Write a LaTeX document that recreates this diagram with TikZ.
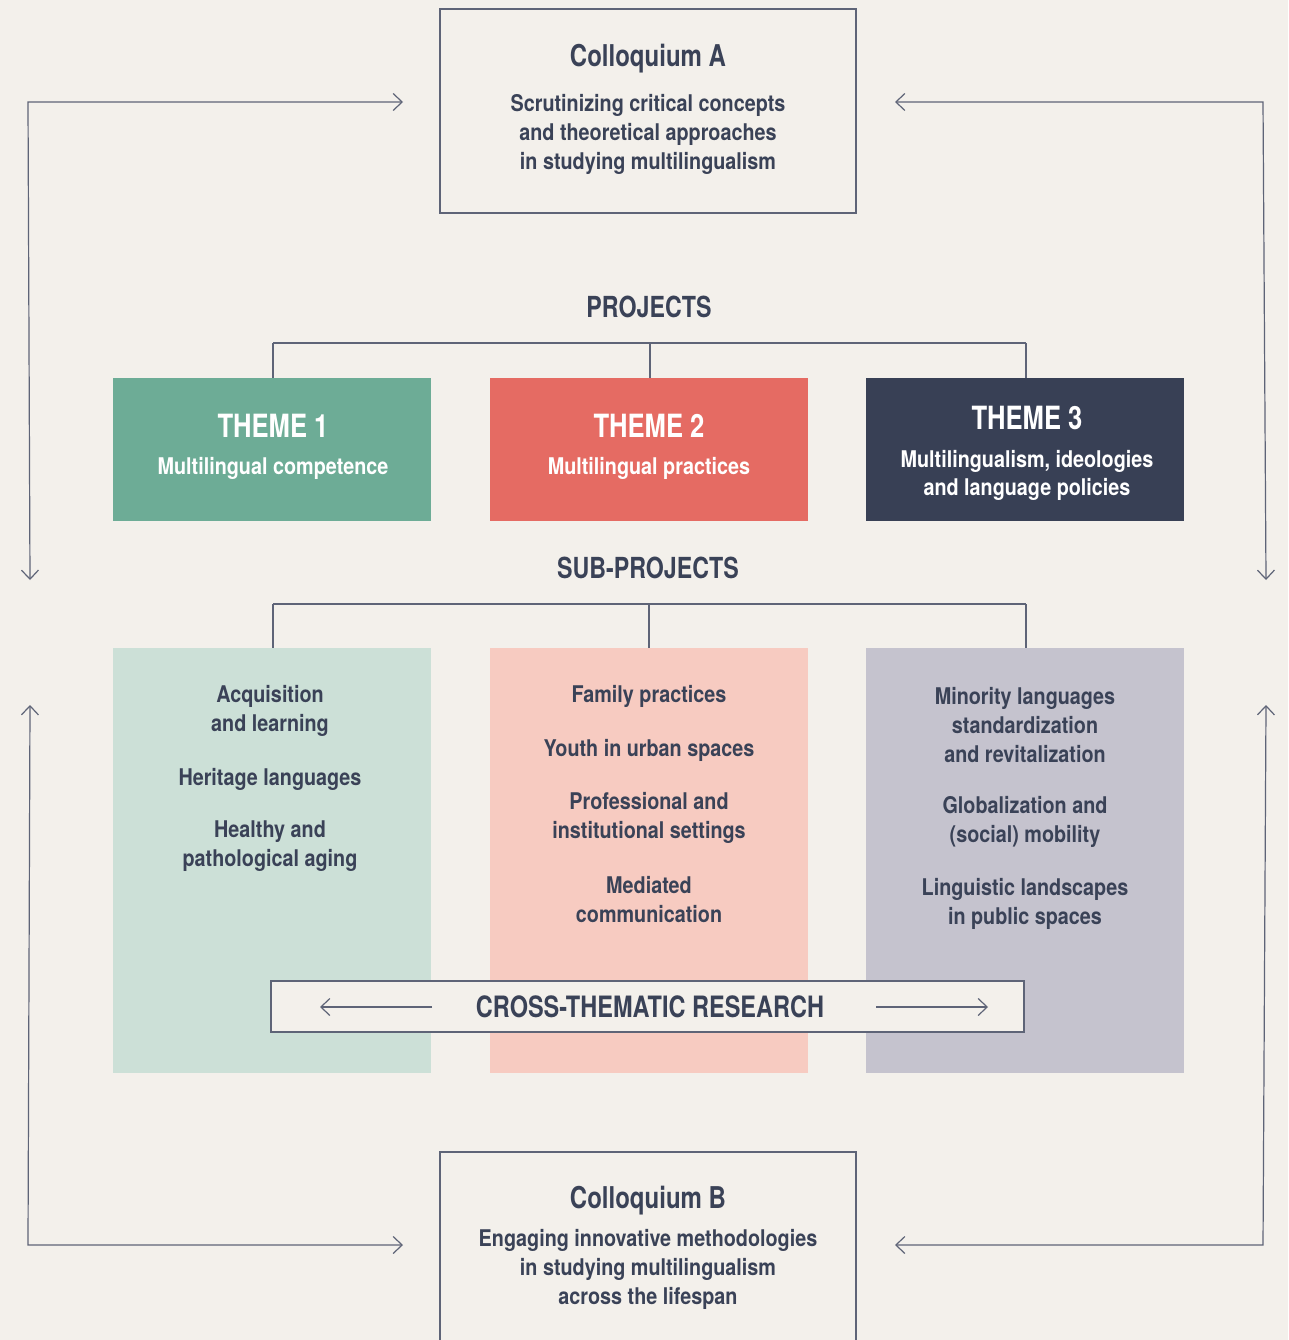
\documentclass[tikz,border=0pt]{standalone}
\usepackage{fontspec}
\setmainfont{TeX Gyre Heros}[FakeStretch=0.80]
\newfontfamily\bodyfont{TeX Gyre Heros}[FakeStretch=0.86]
\usetikzlibrary{arrows.meta}
\definecolor{bgc}{HTML}{F3F0EB}
\definecolor{ink}{HTML}{3A4257}
\definecolor{linec}{HTML}{5E6477}
\definecolor{tealc}{HTML}{6DAC96}
\definecolor{redc}{HTML}{E56B63}
\definecolor{darkc}{HTML}{384055}
\definecolor{ltealc}{HTML}{CCE0D7}
\definecolor{lpinkc}{HTML}{F7CBC1}
\definecolor{lgrayc}{HTML}{C5C3CE}
\tikzset{
  conn/.style={draw=linec, line width=1.2pt},
  arr/.style={conn, {Straight Barb[length=9pt,width=17pt,line width=1.2pt]}-{Straight Barb[length=9pt,width=17pt,line width=1.2pt]}},
  arrone/.style={conn, -{Straight Barb[length=9pt,width=17pt,line width=1.2pt]}},
  frame/.style={draw=linec, line width=1.2pt, fill=bgc},
  ttl/.style={text=ink, font=\bfseries\fontsize{30}{34}\selectfont, inner sep=0pt},
  body/.style={text=ink, font=\bodyfont\bfseries\fontsize{23}{29}\selectfont, align=center, inner sep=0pt, yshift=-2pt},
  head/.style={text=ink, font=\bfseries\fontsize{29}{32}\selectfont, inner sep=0pt},
  themet/.style={text=white, font=\bfseries\fontsize{32}{36}\selectfont, inner sep=0pt},
  themeb/.style={text=white, font=\bodyfont\bfseries\fontsize{23}{28}\selectfont, align=center, inner sep=0pt, yshift=-2pt},
}
\begin{document}
\begin{tikzpicture}[x=1pt,y=-1pt]
\fill[bgc] (0,0) rectangle (1288,1340);
\useasboundingbox (0,0) rectangle (1288,1340);

% Colloquium A
\draw[frame] (440,9) rectangle (856,213);
\node[ttl] (colA) at (648,59) {Colloquium A};
\node[body] (colAt) at (648,132) {Scrutinizing critical concepts\\and theoretical approaches\\in studying multilingualism};

% Colloquium B
\draw[frame] (440,1152) rectangle (856,1345);
\node[ttl] (colB) at (648,1201) {Colloquium B};
\node[body] (colBt) at (648,1267) {Engaging innovative methodologies\\in studying multilingualism\\across the lifespan};

% side loops
\coordinate (ltA) at (403,102); \coordinate (lc1) at (28,102); \coordinate (ld) at (30,580);
\coordinate (rtA) at (895,102); \coordinate (rc1) at (1263,102); \coordinate (rd) at (1266,580);
\coordinate (lu) at (30,705); \coordinate (lc2) at (28,1245); \coordinate (ltB) at (403,1245);
\coordinate (ru) at (1266,705); \coordinate (rc2) at (1263,1245); \coordinate (rtB) at (895,1245);
\draw[arr] (ld) -- (lc1) -- (ltA);
\draw[arr] (rd) -- (rc1) -- (rtA);
\draw[arr] (lu) -- (lc2) -- (ltB);
\draw[arr] (ru) -- (rc2) -- (rtB);

% Projects
\node[head] (proj) at (649,307) {PROJECTS};
\coordinate (p1) at (273,343); \coordinate (p2) at (650,343); \coordinate (p3) at (1026,343);
\fill[tealc] (113,378) rectangle (431,521);
\fill[redc] (490,378) rectangle (808,521);
\fill[darkc] (866,378) rectangle (1184,521);
\coordinate (t1) at (273,378); \coordinate (t2) at (650,378); \coordinate (t3) at (1026,378);
\draw[conn] (p1) -- (p3);
\draw[conn] (p1) -- (t1);
\draw[conn] (p2) -- (t2);
\draw[conn] (p3) -- (t3);

\node[themet] (th1) at (273,426) {THEME 1};
\node[themeb] (th1b) at (273,466) {Multilingual competence};
\node[themet] (th2) at (649,426) {THEME 2};
\node[themeb] (th2b) at (649,466) {Multilingual practices};
\node[themet] (th3) at (1027,418) {THEME 3};
\node[themeb] (th3b) at (1027,473) {Multilingualism, ideologies\\and language policies};

% Sub-projects
\node[head] (sub) at (648,568) {SUB-PROJECTS};
\fill[ltealc] (113,648) rectangle (431,1073);
\fill[lpinkc] (490,648) rectangle (808,1073);
\fill[lgrayc] (866,648) rectangle (1184,1073);
\coordinate (s1) at (273,604); \coordinate (s2) at (649,604); \coordinate (s3) at (1026,604);
\coordinate (b1) at (273,648); \coordinate (b2) at (649,648); \coordinate (b3) at (1026,648);
\draw[conn] (s1) -- (s3);
\draw[conn] (s1) -- (b1);
\draw[conn] (s2) -- (b2);
\draw[conn] (s3) -- (b3);

\node[body] (a1) at (270,708.5) {Acquisition\\and learning};
\node[body] (a2) at (270,777) {Heritage languages};
\node[body] (a3) at (270,844.5) {Healthy and\\pathological aging};

\node[body] (m1) at (649,694) {Family practices};
\node[body] (m2) at (649,748) {Youth in urban spaces};
\node[body] (m3) at (649,815.5) {Professional and\\institutional settings};
\node[body] (m4) at (649,897.5) {Mediated\\communication};

\node[body] (r1) at (1025,723) {Minority languages\\standardization\\and revitalization};
\node[body] (r2) at (1025,819.5) {Globalization and\\(social) mobility};
\node[body] (r3) at (1025,901.5) {Linguistic landscapes\\in public spaces};

% Cross-thematic
\draw[frame] (271,981) rectangle (1024,1032);
\node[ttl, font=\bfseries\fontsize{29.4}{33}\selectfont] (cross) at (650,1007) {CROSS-THEMATIC RESEARCH};
\coordinate (cl0) at (432,1007); \coordinate (cl1) at (320,1007);
\coordinate (cr0) at (876,1007); \coordinate (cr1) at (988,1007);
\draw[arrone] (cl0) -- (cl1);
\draw[arrone] (cr0) -- (cr1);
\end{tikzpicture}
\end{document}
